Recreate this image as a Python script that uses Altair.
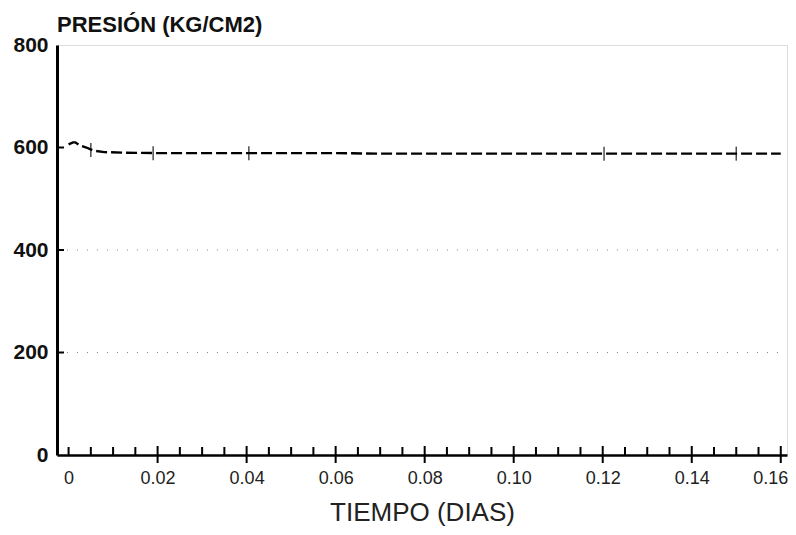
import altair as alt
import pandas as pd

# Pressure curve (time in days, pressure kg/cm2)
t_vals = [0.0, 0.001, 0.0015, 0.0025, 0.004, 0.0055, 0.008, 0.012, 0.02, 0.03, 0.04,
          0.05, 0.06, 0.07, 0.08, 0.09, 0.10, 0.11, 0.12, 0.13, 0.14, 0.15, 0.16]
p_vals = [606, 610, 610, 604, 600, 594, 591, 590, 589, 589, 589,
          589, 589, 588, 588, 588, 588, 588, 588, 588, 588, 588, 588]

# small vertical marks along the curve
mark_t = [0.005, 0.019, 0.0405, 0.1203, 0.150]
mark_p = [595, 589, 589, 588, 588]

# axis tick values
x_labels = [0, 0.02, 0.04, 0.06, 0.08, 0.10, 0.12, 0.14, 0.16]
x_major = [0.02, 0.04, 0.06, 0.08, 0.10, 0.12, 0.14, 0.16]
x_minor = [0.0, 0.005, 0.01, 0.015, 0.025, 0.03, 0.035, 0.045, 0.05, 0.055,
           0.065, 0.07, 0.075, 0.085, 0.09, 0.095, 0.105, 0.11, 0.115,
           0.125, 0.13, 0.135, 0.145, 0.15, 0.155]
y_labels = [0, 200, 400, 600, 800]
y_ticks = [200, 400, 600]
y_grid = [200, 400]

W, H = 730, 410
FONT = "Liberation Sans"

line_df = pd.DataFrame({"t": t_vals, "p": p_vals})
mk_df = pd.DataFrame({"t": mark_t, "p": mark_p})
maj_df = pd.DataFrame({"t": x_major})
min_df = pd.DataFrame({"t": x_minor})
yt_df = pd.DataFrame({"p": y_ticks})
yg_df = pd.DataFrame({"p": y_grid})

xscale = alt.Scale(domain=[-0.0026, 0.1614], nice=False, zero=False)
yscale = alt.Scale(domain=[0, 800], nice=False)

xaxis = alt.Axis(
    values=x_labels, ticks=False, grid=False, domainColor="black", domainWidth=2.5,
    labelExpr="datum.value == 0 ? '0' : format(datum.value, '.2f')",
    labelFont=FONT, labelFontSize=18, labelColor="#222", labelPadding=14,
    labelAlign={"condition": {"test": "datum.value >= 0.159", "value": "right"}, "value": "center"},
    labelOffset={"condition": {"test": "datum.value >= 0.159", "value": 7}, "value": 0},
    labelBound=False, labelFlush=False, labelOverlap=False,
    title="TIEMPO (DIAS)", titleFont=FONT, titleFontSize=26, titleFontWeight="normal",
    titleColor="#222", titlePadding=12,
)
yaxis = alt.Axis(
    values=y_labels, ticks=False, grid=False, domainColor="black", domainWidth=3,
    labelFont=FONT, labelFontSize=21, labelFontWeight="bold", labelColor="#111",
    labelPadding=9, title=None,
)

base_line = alt.Chart(line_df).mark_line(
    color="black", strokeWidth=2.4, strokeDash=[11, 4]
).encode(
    x=alt.X("t:Q", scale=xscale, axis=xaxis),
    y=alt.Y("p:Q", scale=yscale, axis=yaxis),
)

marks = alt.Chart(mk_df).mark_tick(color="black", orient="vertical", size=14, thickness=1.5).encode(
    x=alt.X("t:Q", scale=xscale), y=alt.Y("p:Q", scale=yscale)
)

grid = alt.Chart(yg_df).mark_rule(color="#888", strokeWidth=1, strokeDash=[1, 9]).encode(
    y=alt.Y("p:Q", scale=yscale), x=alt.value(0), x2=alt.value(W)
)

major = alt.Chart(maj_df).mark_rule(color="black", strokeWidth=2).encode(
    x=alt.X("t:Q", scale=xscale), y=alt.value(H + 8), y2=alt.value(H - 9)
)
minor = alt.Chart(min_df).mark_rule(color="black", strokeWidth=2).encode(
    x=alt.X("t:Q", scale=xscale), y=alt.value(H), y2=alt.value(H - 8)
)
yt = alt.Chart(yt_df).mark_rule(color="black", strokeWidth=2).encode(
    y=alt.Y("p:Q", scale=yscale), x=alt.value(0), x2=alt.value(7)
)

chart = alt.layer(grid, base_line, marks, major, minor, yt).properties(
    width=W, height=H,
    padding={"left": 49, "top": 37, "right": 1, "bottom": 72},
    autosize=alt.AutoSizeParams(type="none"),
    title=alt.TitleParams(
        "PRESIÓN (KG/CM2)", anchor="start", frame="group", font=FONT,
        fontSize=22, fontWeight="bold", color="#111", offset=4, dy=7,
    ),
).configure_view(stroke="black", strokeWidth=2).configure(background="white")

chart.save("out.html", embed_options={"renderer": "svg", "actions": False})
